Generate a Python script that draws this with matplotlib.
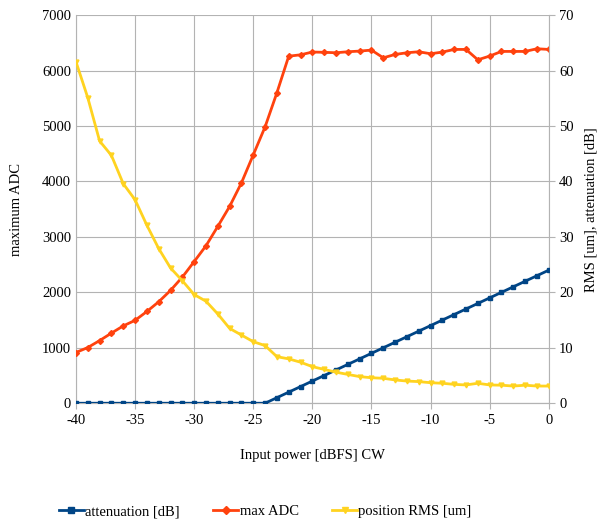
import numpy as np
import matplotlib
matplotlib.use('Agg')
import matplotlib.pyplot as plt
from matplotlib.lines import Line2D

plt.rcParams['font.family'] = ['Liberation Serif', 'DejaVu Serif']
plt.rcParams['axes.unicode_minus'] = False

# input power, dBFS
power = list(range(-40, 1))

attenuation = [0] * 17 + list(range(1, 25))

max_adc = [915, 1005, 1130, 1265, 1395, 1495, 1655, 1830, 2035, 2275,
           2555, 2840, 3190, 3550, 3975, 4480, 4985, 5600, 6260, 6285,
           6335, 6330, 6322, 6340, 6352, 6370, 6231, 6291, 6322, 6340,
           6304, 6334, 6382, 6382, 6195, 6262, 6346, 6346, 6346, 6394, 6382]

pos_rms = [61.6, 55.1, 47.3, 44.7, 39.6, 36.7, 32.1, 27.9, 24.4, 22.1,
           19.6, 18.4, 16.1, 13.5, 12.3, 11.1, 10.4, 8.4, 8.0, 7.4,
           6.6, 6.1, 5.6, 5.2, 4.8, 4.6, 4.5, 4.2, 4.0, 3.9,
           3.7, 3.6, 3.4, 3.3, 3.6, 3.3, 3.25, 3.1, 3.25, 3.1, 3.1]

c_att = '#004586'
c_adc = '#ff420e'
c_rms = '#ffd320'

fig = plt.figure(figsize=(6.03, 5.23), dpi=100)
ax = fig.add_axes([0.126, 0.229, 0.784, 0.742])
ax2 = ax.twinx()

ax.plot(power, max_adc, color=c_adc, lw=2, marker='D', ms=3, zorder=3)
ax2.plot(power, attenuation, color=c_att, lw=2, marker='s', ms=3.5, zorder=3)
ax2.plot(power, pos_rms, color=c_rms, lw=2, marker='v', ms=3.5, zorder=3)

ax.set_xlim(-40, 0)
ax.set_ylim(0, 7000)
ax2.set_ylim(0, 70)
ax.set_xticks(range(-40, 1, 5))
ax.set_yticks(range(0, 7001, 1000))
ax2.set_yticks(range(0, 71, 10))

ax.grid(True, color='#b3b3b3', lw=0.8)
ax.set_axisbelow(True)
for a in (ax, ax2):
    a.spines['top'].set_visible(False)
    a.spines['left'].set_visible(False)
    a.spines['right'].set_visible(False)
    a.spines['bottom'].set_color('#b3b3b3')
    a.tick_params(colors='#b3b3b3', labelcolor='black', labelsize=10.5, length=4)
ax.spines['left'].set_visible(True)
ax.spines['left'].set_color('#b3b3b3')
ax2.spines['right'].set_visible(True)
ax2.spines['right'].set_color('#b3b3b3')
ax.tick_params(axis='y', length=0)

ax.set_xlabel('Input power [dBFS] CW', fontsize=10.5, labelpad=16)
ax.set_ylabel('maximum ADC', fontsize=10.5, labelpad=14)
ax2.set_ylabel('RMS [um], attenuation [dB]', fontsize=10.5, labelpad=8)

handles = [
    Line2D([], [], color=c_att, lw=2, marker='s', ms=5),
    Line2D([], [], color=c_adc, lw=2, marker='D', ms=4),
    Line2D([], [], color=c_rms, lw=2, marker='v', ms=5),
]
fig.legend(handles, ['attenuation [dB]', 'max ADC', 'position RMS [um]'],
           loc='center', bbox_to_anchor=(0.44, 0.022), ncol=3, frameon=False,
           fontsize=10.5, handlelength=1.7, handletextpad=0.1, columnspacing=2.3)

fig.savefig('out.png', dpi=100)
